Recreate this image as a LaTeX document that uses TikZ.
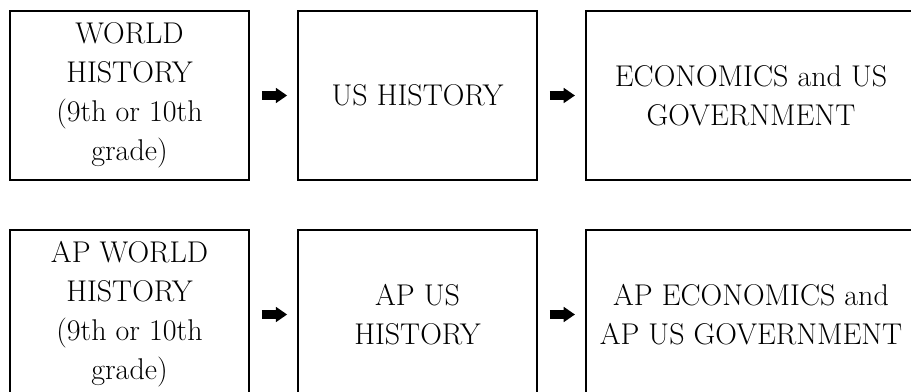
\documentclass[tikz,border=0pt]{standalone}
\usetikzlibrary{arrows.meta}
\tikzset{
  course/.style = {draw, line width=1.5pt, minimum width=179pt, minimum height=127pt,
    align=center, inner sep=0pt, font=\fontsize{22.5}{29.25}\selectfont},
  flow/.style = {line width=6.5pt, -{Triangle[length=8.5pt, width=11pt]},
    shorten <=9pt, shorten >=7.5pt},
}

\begin{document}
\begin{tikzpicture}[
    x=0.75pt, y=-0.75pt,
    ]
    \useasboundingbox (0,0) rectangle (911,392);
    \clip (0,0) rectangle (911,392);
    % regular track
    \node[course] (whist) at (129.5,95.5) {WORLD\\HISTORY\\(9th or 10th\\grade)};
    \node[course] (ushist) at (417.5,95.5) {US HISTORY};
    \node[course, minimum width=247.5pt] (econ) at (751,95.5) {ECONOMICS and US\\GOVERNMENT};
    % AP track
    \node[course] (apwhist) at (129.5,314.5) {AP WORLD\\HISTORY\\(9th or 10th\\grade)};
    \node[course] (apushist) at (417.5,314.5) {AP US\\HISTORY};
    \node[course, minimum width=247.5pt] (apecon) at (751,314.5) {AP ECONOMICS and\\AP US GOVERNMENT};
    \draw[flow] (whist) -- (ushist);
    \draw[flow] (ushist) -- (econ);
    \draw[flow] (apwhist) -- (apushist);
    \draw[flow] (apushist) -- (apecon);
\end{tikzpicture}
\end{document}
